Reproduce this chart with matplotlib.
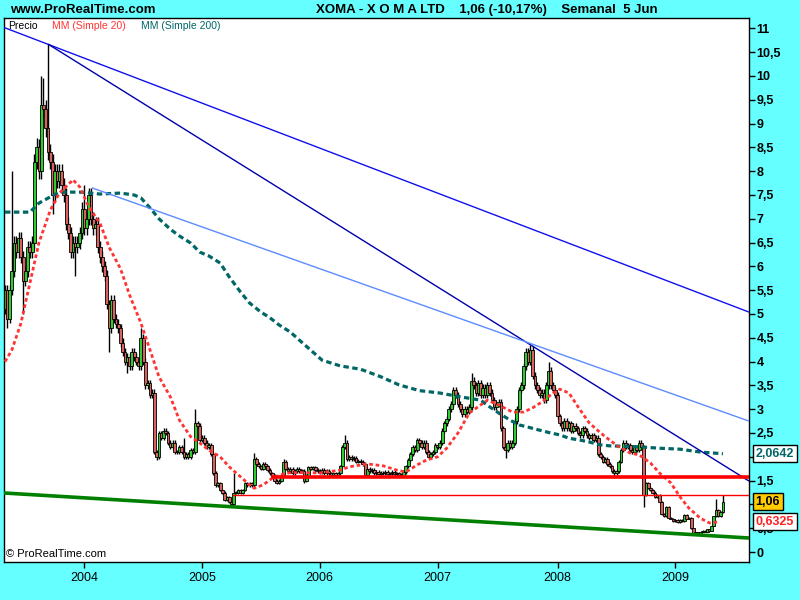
import numpy as np
import pandas as pd
import matplotlib
matplotlib.use("Agg")
import matplotlib.pyplot as plt
import matplotlib.transforms as mtrans
from matplotlib.ticker import FixedLocator, FuncFormatter

# ---------------- data (weekly candles, XOMA) ----------------
last_date = "2009-06-01"
closes = [
    5.5, 4.9, 5.5, 5.9, 6.5, 6.3, 6.6, 6.2, 5.7, 5.9,
    6.4, 6.3, 6.5, 8.2, 8.5, 8.0, 9.4, 9.3, 8.9, 8.4,
    8.2, 7.5, 8.0, 7.8, 8.0, 7.7, 7.5, 6.9, 6.7, 6.3,
    6.5, 6.4, 6.5, 6.7, 7.2, 6.8, 7.0, 7.5, 7.0, 6.8,
    6.9, 6.4, 6.2, 6.0, 5.8, 5.2, 4.7, 5.3, 4.9, 4.8,
    4.7, 4.4, 4.2, 4.0, 4.1, 3.9, 4.2, 4.1, 4.0, 3.9,
    4.5, 4.0, 3.5, 3.55, 3.3, 3.35, 2.1, 2.0, 2.5, 2.4,
    2.55, 2.5, 2.3, 2.2, 2.3, 2.1, 2.1, 2.2, 2.1, 2.0,
    2.05, 2.0, 2.15, 2.1, 2.7, 2.65, 2.35, 2.4, 2.3, 2.2,
    2.25, 2.05, 1.66, 1.4, 1.45, 1.3, 1.25, 1.1, 1.15, 1.05,
    1.0, 1.25, 1.25, 1.3, 1.25, 1.3, 1.45, 1.4, 1.45, 1.4,
    1.95, 1.85, 1.8, 1.75, 1.85, 1.8, 1.72, 1.65, 1.6, 1.5,
    1.45, 1.5, 1.6, 1.9, 1.75, 1.7, 1.75, 1.65, 1.7, 1.75,
    1.7, 1.7, 1.5, 1.6, 1.78, 1.75, 1.78, 1.72, 1.7, 1.68,
    1.72, 1.65, 1.7, 1.65, 1.62, 1.65, 1.62, 1.65, 1.8, 2.2,
    2.3, 1.95, 2.0, 1.95, 1.97, 1.9, 1.92, 1.9, 1.85, 1.62,
    1.75, 1.7, 1.72, 1.65, 1.68, 1.64, 1.66, 1.65, 1.68, 1.64,
    1.65, 1.68, 1.63, 1.65, 1.62, 1.6, 1.68, 1.8, 1.93, 2.05,
    2.2, 2.15, 2.35, 2.3, 2.2, 2.3, 2.1, 2.0, 2.05, 2.1,
    2.25, 2.2, 2.3, 2.55, 2.7, 2.8, 3.0, 3.1, 3.4, 3.3,
    3.1, 3.0, 2.9, 3.0, 2.95, 3.05, 3.6, 3.5, 3.35, 3.55,
    3.3, 3.45, 3.3, 3.5, 3.35, 3.2, 3.05, 3.1, 3.15, 2.6,
    2.2, 2.15, 2.3, 2.2, 2.3, 2.75, 3.0, 3.4, 3.5, 3.9,
    4.2, 4.0, 4.25, 3.7, 3.5, 3.4, 3.3, 3.35, 3.2, 3.5,
    3.8, 3.5, 3.4, 3.3, 2.85, 2.7, 2.6, 2.75, 2.6, 2.7,
    2.55, 2.65, 2.6, 2.5, 2.45, 2.6, 2.55, 2.45, 2.4, 2.45,
    2.35, 2.4, 2.05, 2.0, 1.9, 1.95, 1.85, 1.8, 1.7, 1.65,
    1.7, 1.9, 2.15, 2.3, 2.2, 2.25, 2.15, 2.1, 2.2, 2.15,
    2.3, 2.2, 1.2, 1.45, 1.35, 1.3, 1.25, 1.15, 1.2, 1.05,
    0.8, 0.75, 0.95, 0.72, 0.7, 0.65, 0.68, 0.63, 0.67, 0.65,
    0.78, 0.7, 0.72, 0.5, 0.4, 0.42, 0.38, 0.42, 0.45, 0.42,
    0.48, 0.45, 0.55, 0.75, 0.88, 0.76, 0.84, 1.06,
]
first_open = 5.1
# notable wick extremes (week index -> price)
wick_highs = {3: 8.0, 14: 8.7, 16: 10.0, 17: 9.95, 19: 10.67, 35: 7.7, 60: 4.7,
              79: 2.4, 84: 3.0, 101: 1.66, 110: 2.08, 123: 1.95, 150: 2.46,
              198: 3.47, 206: 3.76, 232: 4.35, 240: 3.99, 314: 1.11, 317: 1.2}
wick_lows = {1: 4.7, 8: 5.0, 21: 7.1, 31: 5.8, 46: 4.2, 54: 3.76, 67: 1.93,
             100: 0.95, 132: 1.45, 221: 1.97, 269: 1.56, 282: 0.95, 306: 0.36}

# moving averages (week index, value)
mm20_wk = [0, 3, 7, 11, 15, 20, 24, 29, 30, 33, 37, 42, 46, 51, 55, 60, 64, 68, 73, 77,
           82, 86, 90, 95, 99, 104, 108, 110, 114, 118, 124, 130, 139, 148, 152, 160, 167,
           173, 177, 182, 186, 191, 195, 200, 205, 213, 218, 224, 229, 233, 237, 242, 245,
           249, 254, 258, 263, 267, 271, 276, 280, 285, 289, 294, 298, 302, 307, 311, 315]
mm20_val = [4.0, 4.24, 4.8, 5.65, 6.5, 7.18, 7.54, 7.77, 7.82, 7.67, 7.25, 6.9, 6.4, 5.95,
            5.4, 4.81, 4.25, 3.68, 3.26, 2.77, 2.42, 2.29, 2.14, 2.0, 1.79, 1.58, 1.41, 1.34,
            1.41, 1.55, 1.66, 1.67, 1.66, 1.72, 1.79, 1.85, 1.81, 1.72, 1.68, 1.83, 1.93, 2.0,
            2.18, 2.5, 2.92, 3.19, 3.09, 2.94, 2.94, 3.03, 3.15, 3.34, 3.42, 3.34, 2.98, 2.71,
            2.5, 2.35, 2.21, 2.08, 2.04, 1.87, 1.66, 1.45, 1.16, 0.92, 0.71, 0.61, 0.6325]
mm200_wk = [0, 11, 15, 20, 24, 33, 42, 51, 57, 60, 64, 68, 73, 77, 82, 86, 90, 95, 99, 104,
            108, 113, 117, 121, 126, 130, 135, 140, 148, 157, 166, 174, 183, 192, 201, 210,
            214, 218, 223, 227, 232, 236, 241, 245, 249, 254, 258, 263, 267, 280, 289, 298,
            307, 317]
mm200_val = [7.14, 7.14, 7.33, 7.46, 7.56, 7.56, 7.52, 7.54, 7.5, 7.44, 7.23, 7.0, 6.78,
             6.64, 6.49, 6.3, 6.22, 6.07, 5.78, 5.46, 5.23, 5.04, 4.92, 4.77, 4.62, 4.45,
             4.24, 4.03, 3.91, 3.84, 3.68, 3.51, 3.39, 3.34, 3.26, 3.19, 3.05, 2.92, 2.77,
             2.67, 2.61, 2.56, 2.5, 2.46, 2.39, 2.35, 2.31, 2.25, 2.23, 2.21, 2.18, 2.16,
             2.1, 2.064]

# drawn trend lines: (start week, start price, end week, end price)
trend_lines = {
    "top":   (-0.5, 11.02, 328.5, 5.04),
    "navy":  (19.0, 10.67, 328.5, 1.49),
    "light": (38.4, 7.65, 328.5, 2.75),
    "green": (-0.5, 1.24, 328.5, 0.294),
}
support_thick = (118.3, 1.576)
support_thin = (100.7, 1.2)

last_close_txt = "1,06"
mm200_last_txt = "2,0642"
mm20_last_txt = "0,6325"
last_close = 1.06
mm200_last = 2.0642
mm20_last = 0.6325
hidden_ticks = [1.0, 2.0]   # covered by the value boxes in the original

title_left = "www.ProRealTime.com"
title_main = "XOMA - X O M A LTD    1,06 (-10,17%)    Semanal  5 Jun"

# ---------------- figure ----------------
plt.rcParams["font.family"] = ["Liberation Sans", "DejaVu Sans"]
fig = plt.figure(figsize=(8, 6), dpi=100, facecolor="#66ffff")
ax = fig.add_axes([4 / 800, 38 / 600, 745 / 800, 544 / 600])
ax.set_facecolor("white")

n = len(closes)
dates = pd.date_range(end=last_date, periods=n, freq="7D")
wk = np.arange(n)
opens = [first_open] + closes[:-1]
c = np.array(closes)
o = np.array(opens)
top = np.maximum(o, c)
bot = np.minimum(o, c)
highs = top + 0.02 * top
lows = bot - 0.02 * bot
for k, v in wick_highs.items():
    highs[k] = v
for k, v in wick_lows.items():
    lows[k] = v

up = c >= o
colors = np.where(up, "#2fcc2f", "#d9625e")
ax.vlines(wk, lows, highs, color="black", linewidth=1.0, zorder=2)
ax.bar(wk, np.maximum(top - bot, 0.02), bottom=bot, width=1.25, color=colors,
       edgecolor="black", linewidth=0.6, zorder=2.2)

# moving averages
ax.plot(mm200_wk, mm200_val, color="#006666", lw=2.3, linestyle=(0, (1.7, 1.1)),
        zorder=3)
ax.plot(mm20_wk, mm20_val, color="#ff3333", lw=2.0, linestyle=(0, (1.3, 1.0)),
        zorder=3.1)

# trend lines
tl_style = {"top": ("#1010ee", 1.0), "navy": ("#0000aa", 1.0),
            "light": ("#5c8cff", 1.0), "green": ("#008000", 2.6)}
for name, (x0, y0, x1, y1) in trend_lines.items():
    col, lw = tl_style[name]
    ax.plot([x0, x1], [y0, y1], color=col, lw=lw, zorder=3.5, solid_capstyle="butt")

xmax = 328.5
ax.plot([support_thick[0], xmax], [support_thick[1]] * 2, color="#ff0000", lw=2.6,
        zorder=3.6)
ax.plot([support_thin[0], xmax], [support_thin[1]] * 2, color="#ff0000", lw=1.0,
        zorder=3.6)

ax.set_xlim(-0.44, xmax)
ax.set_ylim(-0.21, 11.218)

# y axis on the right
ax.yaxis.tick_right()
yt = np.arange(0, 11.01, 0.5)
ax.yaxis.set_major_locator(FixedLocator(yt))


def yfmt(v, p):
    if any(abs(v - h) < 1e-6 for h in hidden_ticks):
        return ""
    return (f"{v:g}").replace(".", ",")


ax.yaxis.set_major_formatter(FuncFormatter(yfmt))
ax.tick_params(axis="y", direction="out", length=4, width=1, pad=1.5,
               labelsize=9, colors="black")
for lab in ax.get_yticklabels():
    lab.set_fontweight("bold")

# x axis: first weekly bar of each year
years = dates.year
first_idx = [i for i in range(1, n) if years[i] != years[i - 1]]
ax.xaxis.set_major_locator(FixedLocator(first_idx))
ax.xaxis.set_major_formatter(FuncFormatter(
    lambda v, p: str(dates[int(round(v))].year)))
ax.tick_params(axis="x", direction="out", length=4, width=1, pad=3, labelsize=9)

for sp in ax.spines.values():
    sp.set_color("black")
    sp.set_linewidth(1.0)

# legend-style labels inside the plot
ax.text(0.006, 0.994, "Precio", transform=ax.transAxes, fontsize=7.5, color="black",
        va="top", ha="left")
ax.text(0.065, 0.994, "MM (Simple 20)", transform=ax.transAxes, fontsize=7.5,
        color="#ff3333", va="top", ha="left")
ax.text(0.184, 0.994, "MM (Simple 200)", transform=ax.transAxes, fontsize=7.5,
        color="#006666", va="top", ha="left")
ax.text(0.003, 0.006, "\u00a9 ProRealTime.com", transform=ax.transAxes, fontsize=8,
        color="black", va="bottom", ha="left")

# header
fig.text(10 / 800, 1 - 10 / 600, title_left, fontsize=9.5, fontweight="bold",
         va="center", ha="left")
fig.text(316 / 800, 1 - 10 / 600, title_main, fontsize=9.5, fontweight="bold",
         va="center", ha="left")

# value boxes on the right axis
bt = mtrans.blended_transform_factory(ax.transAxes, ax.transData)
box_kw = dict(boxstyle="square,pad=0.2", linewidth=1.0, edgecolor="black")
ax.text(1.009, mm200_last, mm200_last_txt, transform=bt, fontsize=9,
        fontweight="bold", color="#006666", va="center", ha="left", zorder=10,
        clip_on=False, bbox=dict(facecolor="white", **box_kw))
ax.text(1.009, last_close, last_close_txt, transform=bt, fontsize=9,
        fontweight="bold", color="black", va="center", ha="left", zorder=10,
        clip_on=False, bbox=dict(facecolor="#ffcc00", **box_kw))
ax.text(1.009, mm20_last, mm20_last_txt, transform=bt, fontsize=9,
        fontweight="bold", color="#ff2222", va="center", ha="left", zorder=10,
        clip_on=False, bbox=dict(facecolor="white", **box_kw))

fig.savefig("out.png", dpi=100, facecolor=fig.get_facecolor())
